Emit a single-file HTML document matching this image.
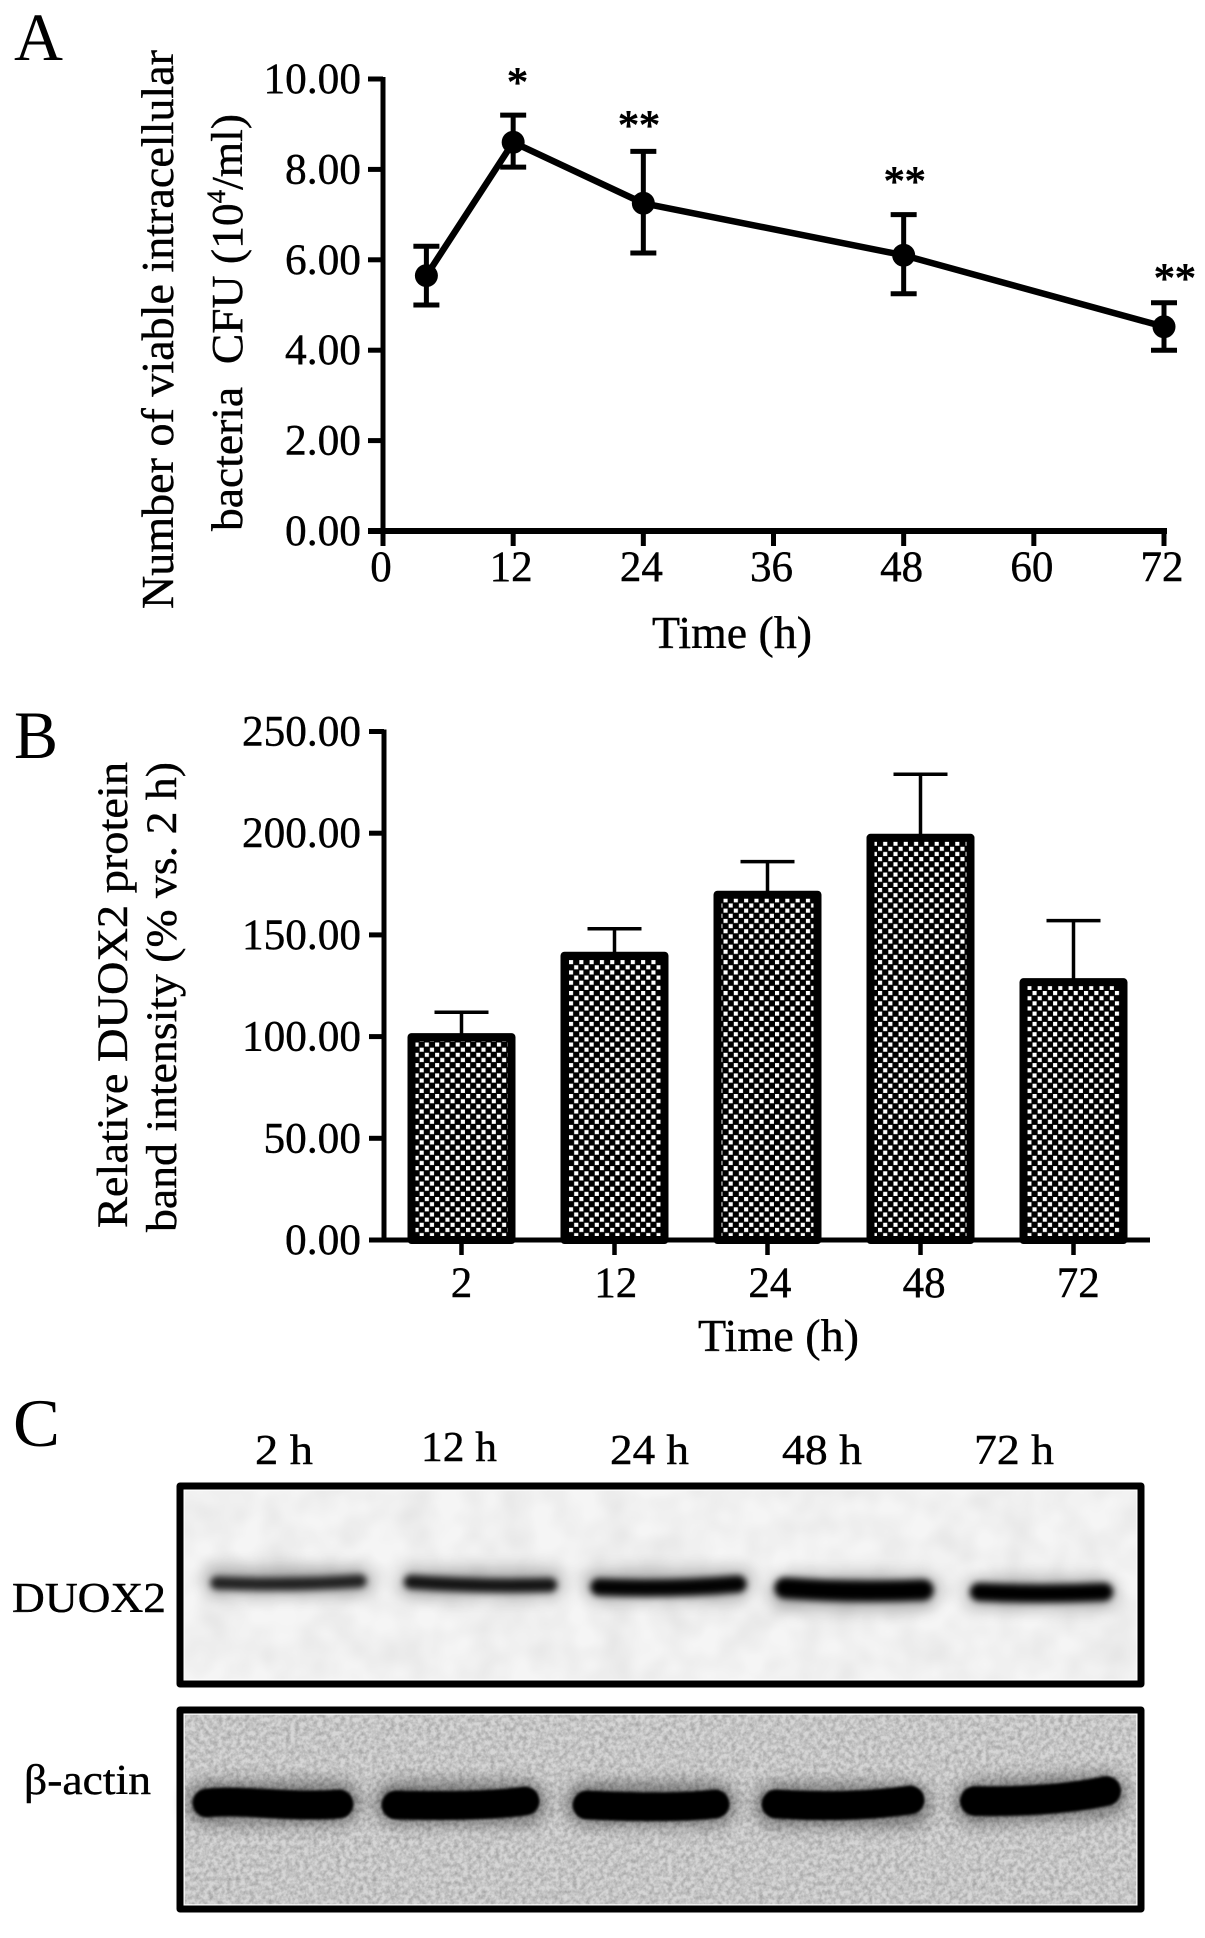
<!DOCTYPE html>
<html lang="en">
<head>
<meta charset="utf-8">
<title>Intracellular bacteria and DUOX2 expression over time</title>
<style>
html,body{margin:0;padding:0;background:#fff;width:1205px;height:1938px;overflow:hidden}
svg{display:block}
text{font-family:"Liberation Serif","DejaVu Serif",serif;fill:#000;white-space:pre;stroke:#000;stroke-width:.4}
</style>
</head>
<body>
<svg id="figure" xmlns="http://www.w3.org/2000/svg" width="1205" height="1938" viewBox="0 0 1205 1938">
  <defs>
    <pattern id="checker" patternUnits="userSpaceOnUse" x="414" y="1042" width="10.3" height="10.3">
      <rect width="10.3" height="10.3" fill="#000"/>
      <rect x="0.5" y="0.5" width="4.1" height="4.1" fill="#fff"/>
      <rect x="5.65" y="5.65" width="4.1" height="4.1" fill="#fff"/>
    </pattern>
    <filter id="blur1" filterUnits="userSpaceOnUse" x="170" y="1480" width="980" height="440"><feGaussianBlur stdDeviation="1.4"/></filter>
    <filter id="blur3" filterUnits="userSpaceOnUse" x="170" y="1480" width="980" height="440"><feGaussianBlur stdDeviation="3.2"/></filter>
    <filter id="blur8" filterUnits="userSpaceOnUse" x="170" y="1480" width="980" height="440"><feGaussianBlur stdDeviation="8"/></filter>
    <filter id="noiseLight" x="0" y="0" width="100%" height="100%">
      <feTurbulence type="fractalNoise" baseFrequency="0.03" numOctaves="2" seed="4"/>
      <feColorMatrix type="matrix" values="0 0 0 0 0  0 0 0 0 0  0 0 0 0 0  0.1 0 0 0 -0.03"/>
    </filter>
    <filter id="noiseDark" x="0" y="0" width="100%" height="100%">
      <feTurbulence type="fractalNoise" baseFrequency="0.22" numOctaves="3" seed="9"/>
      <feColorMatrix type="matrix" values="0 0 0 0 0  0 0 0 0 0  0 0 0 0 0  0.42 0 0 0 -0.13"/>
    </filter>
  </defs>

  <g id="panel-a">
    <text x="14" y="60" font-size="68" textLength="49" lengthAdjust="spacingAndGlyphs" style="stroke-width:0">A</text>
    <text transform="translate(173 609) rotate(-90)" font-size="46" textLength="559" lengthAdjust="spacingAndGlyphs">Number of viable intracellular</text>
    <text transform="translate(242 531) rotate(-90)" font-size="44" textLength="417" lengthAdjust="spacingAndGlyphs">bacteria  CFU (10<tspan font-size="26" dy="-17">4</tspan><tspan dy="17">/ml)</tspan></text>
    <text x="652" y="648" font-size="46" textLength="160" lengthAdjust="spacingAndGlyphs">Time (h)</text>
  </g>

  <g id="panel-b">
    <text x="14" y="758" font-size="68" textLength="44" lengthAdjust="spacingAndGlyphs" style="stroke-width:0">B</text>
    <text transform="translate(127 1228) rotate(-90)" font-size="43" textLength="466" lengthAdjust="spacingAndGlyphs">Relative DUOX2 protein</text>
    <text transform="translate(176 1232) rotate(-90)" font-size="43" textLength="470" lengthAdjust="spacingAndGlyphs">band intensity (% vs. 2 h)</text>
    <text x="698" y="1351" font-size="46" textLength="161" lengthAdjust="spacingAndGlyphs">Time (h)</text>
  </g>

  <g id="panel-c">
    <text x="13" y="1446" font-size="68" textLength="47" lengthAdjust="spacingAndGlyphs" style="stroke-width:0">C</text>
    <text x="255" y="1464" font-size="42" textLength="58" lengthAdjust="spacingAndGlyphs">2 h</text>
    <text x="421" y="1461" font-size="42" textLength="76" lengthAdjust="spacingAndGlyphs">12 h</text>
    <text x="610" y="1464" font-size="42" textLength="79" lengthAdjust="spacingAndGlyphs">24 h</text>
    <text x="782" y="1464" font-size="42" textLength="80" lengthAdjust="spacingAndGlyphs">48 h</text>
    <text x="974" y="1464" font-size="42" textLength="80" lengthAdjust="spacingAndGlyphs">72 h</text>
    <text x="12" y="1612" font-size="42" textLength="154" lengthAdjust="spacingAndGlyphs">DUOX2</text>
    <text x="24" y="1794" font-size="42" textLength="127" lengthAdjust="spacingAndGlyphs">β-actin</text>

    <g>
      <rect x="180" y="1486" width="961" height="198" fill="#f5f5f5"/>
      <rect x="183" y="1489" width="955" height="192" filter="url(#noiseLight)"/>
      <g fill="none" stroke="#000" stroke-linecap="round">
        <g filter="url(#blur8)" opacity="0.3">
          <path d="M219 1581 H358" stroke-width="28"/>
          <path d="M413 1583 H548" stroke-width="28"/>
          <path d="M598 1585 H736" stroke-width="30"/>
          <path d="M787 1592 H921" stroke-width="34"/>
          <path d="M981 1593 H1102" stroke-width="30"/>
        </g>
        <g filter="url(#blur3)">
          <path d="M217 1583 Q290 1586 360 1581" stroke-width="13" opacity="0.8"/>
          <path d="M411 1582 Q480 1587 550 1585" stroke-width="14" opacity="0.88"/>
          <path d="M599 1587 Q670 1590 738 1584" stroke-width="17" opacity="0.98"/>
          <path d="M785 1588 Q850 1593 923 1590" stroke-width="21"/>
          <path d="M979 1592 Q1040 1595 1104 1592" stroke-width="18"/>
        </g>
      </g>
      <rect x="184" y="1490" width="953" height="190" fill="none" stroke="#fff" stroke-width="1.5"/>
      <rect x="180" y="1486" width="961" height="198" fill="none" stroke="#000" stroke-width="7" stroke-linejoin="round"/>
    </g>

    <g>
      <rect x="180" y="1710" width="961" height="199" fill="#d6d6d6"/>
      <rect x="183" y="1713" width="955" height="193" filter="url(#noiseDark)"/>
      <g fill="none" stroke="#000" stroke-linecap="round">
        <g filter="url(#blur8)" opacity="0.42">
          <path d="M207 1803 H339" stroke-width="42"/>
          <path d="M396 1803 H525" stroke-width="42"/>
          <path d="M587 1804 H715" stroke-width="42"/>
          <path d="M776 1805 H910" stroke-width="42"/>
          <path d="M975 1803 L1106 1795" stroke-width="42"/>
        </g>
        <g filter="url(#blur1)">
          <path d="M207 1803 C240 1799 290 1808 339 1804" stroke-width="29"/>
          <path d="M396 1805 C440 1806 490 1806 525 1801" stroke-width="29"/>
          <path d="M587 1805 C630 1807 680 1808 715 1804" stroke-width="29"/>
          <path d="M776 1804 C820 1807 870 1806 910 1800" stroke-width="29"/>
          <path d="M975 1801 C1020 1802 1070 1799 1106 1791" stroke-width="30"/>
        </g>
      </g>
      <rect x="184" y="1714" width="953" height="191" fill="none" stroke="#fff" stroke-width="1.5"/>
      <rect x="180" y="1710" width="961" height="199" fill="none" stroke="#000" stroke-width="7" stroke-linejoin="round"/>
    </g>
  </g>
</svg>

<script>
// Panel A data
const lineTickValuesY = [0, 2, 4, 6, 8, 10];
const lineTickValuesX = [0, 12, 24, 36, 48, 60, 72];
const lineTimes = [4, 12, 24, 48, 72];
const lineMeans = [5.65, 8.6, 7.25, 6.1, 4.52];
const lineUpper = [6.3, 9.2, 8.4, 7.0, 5.05];
const lineLower = [5.0, 8.05, 6.15, 5.25, 4.0];
const starLabels = ['*', '**', '**', '**'];
const starTimes = [12.4, 23.6, 48.1, 73];
const starLevels = [10.1, 9.15, 7.91, 5.76];

// Panel B data
const barCategories = ['2', '12', '24', '48', '72'];
const barValues = [100, 140, 170, 198, 127];
const barErrorTops = [112, 153, 186, 229, 157];
const barTickValuesY = [0, 50, 100, 150, 200, 250];

const svgNS = 'http://www.w3.org/2000/svg';
const make = function (parent, tag, attrs, content) {
  const node = document.createElementNS(svgNS, tag);
  Object.keys(attrs).forEach(function (k) { node.setAttribute(k, attrs[k]); });
  if (content !== undefined) node.textContent = content;
  parent.appendChild(node);
  return node;
};
const tickLabelWidth = function (text) { return (text.length - 1) * 21.5 + 10.5; };

// ---------- Panel A ----------
const panelA = document.getElementById('panel-a');
const xA = function (t) { return 383 + t * (1164 - 383) / 72; };
const yA = function (v) { return 531 - v * (531 - 79) / 10; };

const axisYA = make(panelA, 'line', { x1: 383, x2: 383, y1: yA(10) - 2, y2: yA(0) + 2, stroke: '#000', 'stroke-width': 5 });


const axisXA = make(panelA, 'line', { x1: 368, x2: xA(72) + 3, y1: yA(0), y2: yA(0), stroke: '#000', 'stroke-width': 6 });



lineTickValuesY.forEach(function (v) {
  const tick = make(panelA, 'line', { x1: 368, x2: 383, y1: yA(v), y2: yA(v), stroke: '#000', 'stroke-width': 5 });
  
  
  const text = v.toFixed(2);
  const label = make(panelA, 'text', { x: 361, y: yA(v) + 14, 'font-size': 43, 'text-anchor': 'end', textLength: tickLabelWidth(text) + 1, lengthAdjust: 'spacingAndGlyphs' }, text);
  
  
});
lineTickValuesX.forEach(function (t) {
  const tick = make(panelA, 'line', { x1: xA(t), x2: xA(t), y1: yA(0), y2: yA(0) + 15, stroke: '#000', 'stroke-width': 5 });
  
  
  const label = make(panelA, 'text', { x: xA(t) - 2, y: 581, 'font-size': 43, 'text-anchor': 'middle' }, String(t));
  
  
});

const linePoints = lineTimes.map(function (t, i) { return xA(t) + ',' + yA(lineMeans[i]); }).join(' ');
const seriesLine = make(panelA, 'polyline', { points: linePoints, fill: 'none', stroke: '#000', 'stroke-width': 6.5, 'stroke-linejoin': 'round' });



lineTimes.forEach(function (t, i) {
  const x = xA(t);
  const stem = make(panelA, 'line', { x1: x, x2: x, y1: yA(lineUpper[i]), y2: yA(lineLower[i]), stroke: '#000', 'stroke-width': 5 });
  
  
  const capTop = make(panelA, 'line', { x1: x - 13, x2: x + 13, y1: yA(lineUpper[i]), y2: yA(lineUpper[i]), stroke: '#000', 'stroke-width': 5 });
  
  
  const capBottom = make(panelA, 'line', { x1: x - 13, x2: x + 13, y1: yA(lineLower[i]), y2: yA(lineLower[i]), stroke: '#000', 'stroke-width': 5 });
  
  
  const dot = make(panelA, 'circle', { cx: x, cy: yA(lineMeans[i]), r: 11.5, fill: '#000' });
  
  
});

starLabels.forEach(function (s, i) {
  const star = make(panelA, 'text', { x: xA(starTimes[i]), y: yA(starLevels[i]) + 22, 'font-size': 42, 'text-anchor': 'middle', style: 'stroke-width:1' }, s);
  
  
});

// ---------- Panel B ----------
const panelB = document.getElementById('panel-b');
const xB = function (i) { return 461.5 + i * 153; };
const yB = function (v) { return 1240 - v * (1240 - 731.5) / 250; };
const barOuterWidth = 108;
const barStroke = 8;

barCategories.forEach(function (c, i) {
  const cx = xB(i);
  const stem = make(panelB, 'line', { x1: cx, x2: cx, y1: yB(barErrorTops[i]), y2: yB(barValues[i]), stroke: '#000', 'stroke-width': 3.5 });
  
  
  const cap = make(panelB, 'line', { x1: cx - 27, x2: cx + 27, y1: yB(barErrorTops[i]), y2: yB(barErrorTops[i]), stroke: '#000', 'stroke-width': 3.5 });
  
  
  const top = yB(barValues[i]) + 0.5;
  const bar = make(panelB, 'rect', {
    x: cx - barOuterWidth / 2 + barStroke / 2,
    y: top,
    width: barOuterWidth - barStroke,
    height: yB(0) - top,
    fill: 'url(#checker)',
    stroke: '#000',
    'stroke-width': barStroke,
    'stroke-linejoin': 'round'
  });
  
  
  const tick = make(panelB, 'line', { x1: cx, x2: cx, y1: yB(0), y2: yB(0) + 15, stroke: '#000', 'stroke-width': 4.5 });
  
  
  const label = make(panelB, 'text', { x: cx + i * 1.2, y: 1297, 'font-size': 43, 'text-anchor': 'middle' }, c);
  
  
});

const axisYB = make(panelB, 'line', { x1: 384, x2: 384, y1: yB(250) - 2, y2: yB(0) + 2, stroke: '#000', 'stroke-width': 5 });


const axisXB = make(panelB, 'line', { x1: 369, x2: 1150, y1: yB(0), y2: yB(0), stroke: '#000', 'stroke-width': 5 });



barTickValuesY.forEach(function (v) {
  const tick = make(panelB, 'line', { x1: 369, x2: 384, y1: yB(v), y2: yB(v), stroke: '#000', 'stroke-width': 5 });
  
  
  const text = v.toFixed(2);
  const label = make(panelB, 'text', { x: 361, y: yB(v) + 14, 'font-size': 43, 'text-anchor': 'end', textLength: tickLabelWidth(text) + 1, lengthAdjust: 'spacingAndGlyphs' }, text);
  
  
});
</script>
</body>
</html>
